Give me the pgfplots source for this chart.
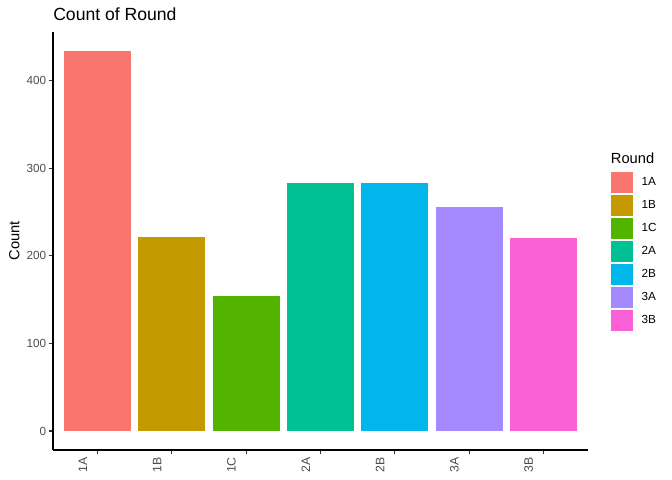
\documentclass[border=0pt]{standalone}
\usepackage{pgfplots}
\pgfplotsset{compat=1.18}
\usepackage{fontspec}
\setmainfont{Liberation Sans}
\definecolor{c1A}{HTML}{F8766D}
\definecolor{c1B}{HTML}{C49A00}
\definecolor{c1C}{HTML}{53B400}
\definecolor{c2A}{HTML}{00C094}
\definecolor{c2B}{HTML}{00B6EB}
\definecolor{c3A}{HTML}{A58AFF}
\definecolor{c3B}{HTML}{FB61D7}
\definecolor{grey30}{HTML}{4D4D4D}
\definecolor{grey20}{HTML}{333333}
\begin{document}
\begin{tikzpicture}
\useasboundingbox (0,0) rectangle (504bp,360bp);
\begin{axis}[
  at={(39.75bp,22.5bp)}, anchor=south west,
  scale only axis, width=401.25bp, height=313.5bp,
  xmin=0.4, xmax=7.6, ymin=-21.7, ymax=455.7,
  axis x line=bottom, axis y line=left,
  axis line style={-, line width=0.8bp, black},
  tick align=outside, major tick length=2.75bp,
  tick style={line width=0.8bp, grey20},
  xtick={1,2,3,4,5,6,7},
  xticklabels={1A,1B,1C,2A,2B,3A,3B},
  ytick={0,100,200,300,400},
  /pgf/number format/assume math mode=true,
  yticklabel style={font=\fontsize{8.8bp}{10bp}\selectfont, text=grey30, inner sep=0pt, anchor=east, xshift=-2.2bp},
  xticklabel style={font=\fontsize{9.2bp}{10bp}\selectfont, text=grey30, inner sep=0pt, rotate=90, anchor=east, yshift=11bp, xshift=-2.5bp},
  ylabel={Count},
  every axis y label/.style={at={(axis description cs:-0.063,0.5)}, rotate=90, anchor=base, inner sep=0pt, font=\fontsize{11bp}{13bp}\selectfont},
  ybar, bar width=0.9, bar shift=0pt,
  legend style={at={(axis description cs:1.0424,0.665)}, anchor=north west, draw=none, fill=none, inner sep=0pt, outer sep=0pt,
    row sep=1.25bp, font=\fontsize{8.8bp}{10bp}\selectfont,
    nodes={inner sep=0pt, anchor=west},
    /tikz/every odd column/.append style={column sep=6.75bp}},
  legend cell align=left,
  legend image code/.code={\fill[#1] (0bp,-8bp) rectangle (16.5bp,8bp);},
  clip=false,
]
\addplot[draw=none, fill=c1A] coordinates {(1,434)};
\addplot[draw=none, fill=c1B] coordinates {(2,222)};
\addplot[draw=none, fill=c1C] coordinates {(3,154)};
\addplot[draw=none, fill=c2A] coordinates {(4,283)};
\addplot[draw=none, fill=c2B] coordinates {(5,283)};
\addplot[draw=none, fill=c3A] coordinates {(6,256)};
\addplot[draw=none, fill=c3B] coordinates {(7,220)};
\legend{1A,1B,1C,2A,2B,3A,3B}
\node[anchor=base west, inner sep=0pt, font=\fontsize{13.2bp}{15bp}\selectfont] at (axis description cs:0,1.0263) {Count of Round};
\node[anchor=base west, inner sep=0pt, font=\fontsize{11bp}{13bp}\selectfont] at (axis description cs:1.0424,0.6842) {Round};
\end{axis}
\end{tikzpicture}
\end{document}
